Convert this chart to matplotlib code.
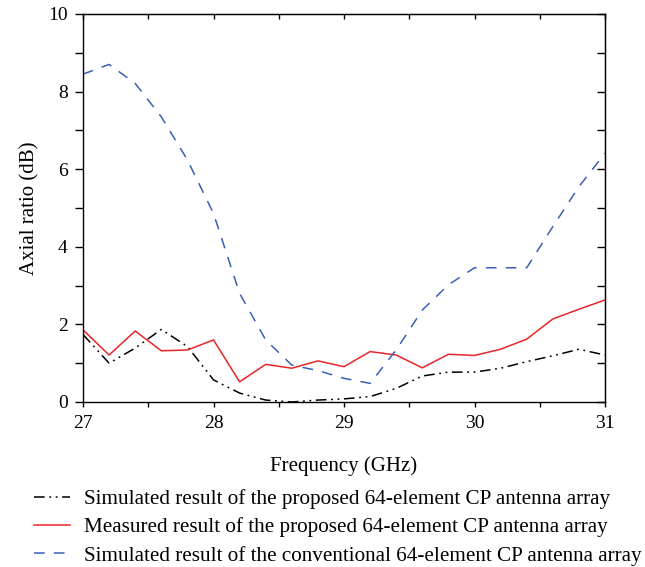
import matplotlib
matplotlib.use("Agg")
import matplotlib.pyplot as plt
from matplotlib.ticker import MultipleLocator, NullFormatter

plt.rcParams['font.family'] = ['Liberation Serif', 'DejaVu Serif']

# Data
freq = [27.0, 27.2, 27.4, 27.6, 27.8, 28.0, 28.2, 28.4, 28.6, 28.8, 29.0,
        29.2, 29.4, 29.6, 29.8, 30.0, 30.2, 30.4, 30.6, 30.8, 31.0]
sim_proposed = [1.74, 1.00, 1.39, 1.87, 1.43, 0.57, 0.23, 0.05, 0.00, 0.05, 0.08,
                0.14, 0.35, 0.67, 0.77, 0.77, 0.87, 1.04, 1.19, 1.36, 1.21]
measured = [1.86, 1.21, 1.83, 1.32, 1.34, 1.60, 0.52, 0.97, 0.87, 1.06, 0.91,
            1.30, 1.21, 0.88, 1.23, 1.20, 1.36, 1.62, 2.14, 2.39, 2.63]
sim_conventional = [8.45, 8.70, 8.21, 7.35, 6.24, 4.86, 2.80, 1.60, 0.95, 0.81, 0.61,
                    0.48, 1.34, 2.37, 3.02, 3.46, 3.46, 3.46, 4.52, 5.55, 6.41]

labels = ["Simulated result of the proposed 64-element CP antenna array",
          "Measured result of the proposed 64-element CP antenna array",
          "Simulated result of the conventional 64-element CP antenna array"]

fig = plt.figure(figsize=(6.45, 5.67), dpi=100)
ax = fig.add_axes([83 / 645, 1 - 402 / 567, 522 / 645, 388 / 567])

ax.plot(freq, sim_proposed, color='black', lw=1.1, dashes=(7, 3, 1.2, 3, 1.2, 3))
ax.plot(freq, measured, color='#e8262a', lw=1.1)
ax.plot(freq, sim_conventional, color='#3b5fb8', lw=1.1, dashes=(7, 6))

ax.set_xlim(27, 31)
ax.set_ylim(0, 10)
ax.xaxis.set_major_locator(MultipleLocator(1))
ax.xaxis.set_minor_locator(MultipleLocator(0.5))
ax.yaxis.set_major_locator(MultipleLocator(2))
ax.yaxis.set_minor_locator(MultipleLocator(1))
ax.tick_params(axis='x', which='both', direction='out', length=3.5, width=1, pad=6, labelsize=14)
ax.tick_params(axis='y', which='both', direction='out', length=6, width=1, pad=5, labelsize=14)
for s in ax.spines.values():
    s.set_linewidth(1)

# top / right ticks point inwards
top = ax.secondary_xaxis('top')
top.xaxis.set_major_locator(MultipleLocator(0.5))
top.xaxis.set_major_formatter(NullFormatter())
top.tick_params(direction='in', length=3.5, width=1)
right = ax.secondary_yaxis('right')
right.yaxis.set_major_locator(MultipleLocator(1))
right.yaxis.set_major_formatter(NullFormatter())
right.tick_params(direction='in', length=6, width=1)

ax.set_xlabel('Frequency (GHz)', fontsize=15, labelpad=17)
ax.set_ylabel('Axial ratio (dB)', fontsize=15, labelpad=6)

fig.legend(ax.get_lines(), labels, loc='upper left', bbox_to_anchor=(34 / 645, 1 - 489 / 567),
           frameon=False, fontsize=15.2, handlelength=1.7, handletextpad=0.65,
           borderpad=0, borderaxespad=0, labelspacing=0.4)

fig.savefig('out.png', dpi=100)
